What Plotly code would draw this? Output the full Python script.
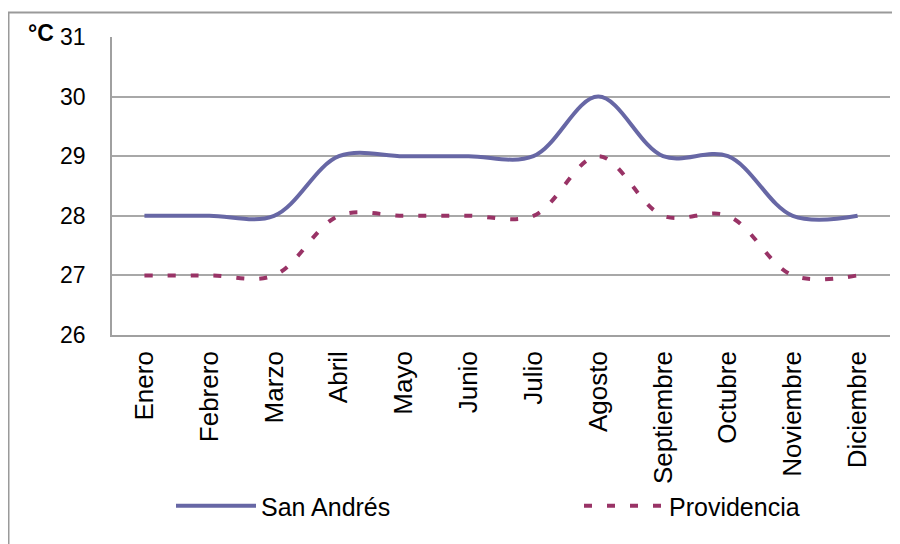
import plotly.graph_objects as go

months = ["Enero", "Febrero", "Marzo", "Abril", "Mayo", "Junio", "Julio",
          "Agosto", "Septiembre", "Octubre", "Noviembre", "Diciembre"]
san_andres = [28, 28, 28, 29, 29, 29, 29, 30, 29, 29, 28, 28]
providencia = [27, 27, 27, 28, 28, 28, 28, 29, 28, 28, 27, 27]
y_ticks = [26, 27, 28, 29, 30, 31]

FONT = "Liberation Sans, Arial, sans-serif"
S = 8                      # page offset of the figure inside the browser window
W, H = 900 - S, 544 - S
# target plot area in window pixels: x 112..890, y 37..335
L, R, T, B = 112 - S, W - (890 - S), 37 - S, H - (335 - S)
pw, ph = W - L - R, H - T - B

def px(x):                 # window pixel -> paper x
    return (x - S - L) / pw

def py(y):                 # window pixel -> paper y
    return (H - B - (y - S)) / ph

fig = go.Figure()
fig.add_trace(go.Scatter(
    x=months, y=san_andres, name="San Andrés", mode="lines", legend="legend",
    line=dict(color="#6767a5", width=4, shape="spline", smoothing=1.0),
))
fig.add_trace(go.Scatter(
    x=months, y=providencia, name="Providencia", mode="lines", legend="legend2",
    line=dict(color="#993366", width=4, shape="spline", smoothing=1.0, dash="8px,15px"),
))

leg_common = dict(
    orientation="h", yanchor="middle", xanchor="left",
    font=dict(size=25, family=FONT), itemwidth=80,
    bgcolor="rgba(0,0,0,0)",
)

fig.update_layout(
    width=W, height=H,
    margin=dict(l=L, r=R, t=T, b=B, autoexpand=False),
    paper_bgcolor="white", plot_bgcolor="white",
    font=dict(family=FONT, color="black"),
    showlegend=True,
    legend=dict(x=px(171), y=py(506), **leg_common),
    legend2=dict(x=px(579), y=py(506), **leg_common),
    xaxis=dict(
        categoryorder="array", categoryarray=months,
        range=[-0.5, 11.5], showgrid=False, zeroline=False, automargin=False,
        showline=True, linecolor="#a0a0a0", linewidth=1.5,
        tickangle=-90, tickfont=dict(size=26, family=FONT),
        ticks="outside", ticklen=0, ticklabelstandoff=4,
    ),
    yaxis=dict(
        range=[26, 31], tickvals=y_ticks, showgrid=True, automargin=False,
        gridcolor="#a8a8a8", gridwidth=1.5, zeroline=False,
        showline=True, linecolor="#a0a0a0", linewidth=1.5,
        tickfont=dict(size=23, family=FONT),
        ticks="outside", ticklen=0, ticklabelstandoff=20,
    ),
    annotations=[dict(
        text="<b>°C</b>", xref="paper", yref="paper", x=px(26), y=py(33),
        xanchor="left", yanchor="middle", showarrow=False,
        font=dict(size=23, family=FONT, color="black"),
    )],
    shapes=[dict(
        type="rect", xref="paper", yref="paper",
        x0=px(8.5), x1=px(915), y0=py(570), y1=py(12.5),
        line=dict(color="#9a9a9a", width=2), layer="below",
    )],
)

fig.write_html("out.html")
